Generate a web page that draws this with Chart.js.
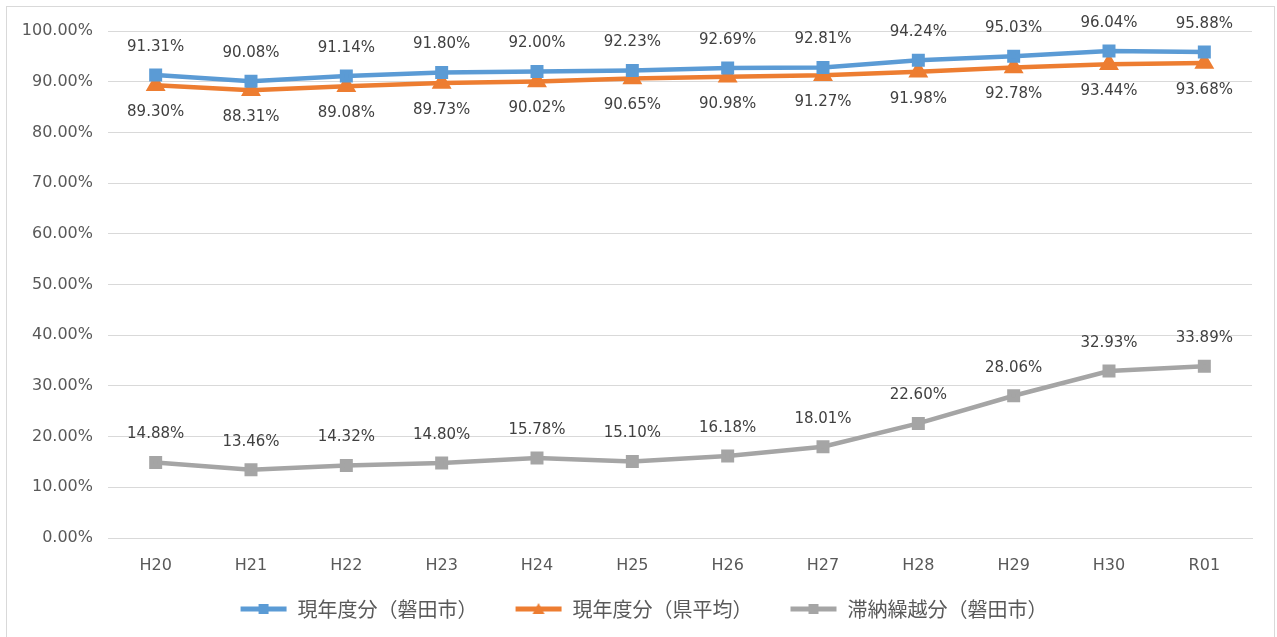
<!DOCTYPE html>
<html lang="ja">
<head>
<meta charset="utf-8">
<script src="https://cdn.jsdelivr.net/npm/chart.js@4"></script>
<style>
  html, body { margin: 0; padding: 0; background: #fff; }
  #wrap { width: 1277px; height: 637px; }
</style>
</head>
<body>
<div id="wrap"><canvas id="chart" width="1277" height="637"></canvas></div>
<script>
// data
const years = ["H20", "H21", "H22", "H23", "H24", "H25", "H26", "H27", "H28", "H29", "H30", "R01"];
const iwataCurrent = [91.31, 90.08, 91.14, 91.80, 92.00, 92.23, 92.69, 92.81, 94.24, 95.03, 96.04, 95.88];
const prefCurrent = [89.30, 88.31, 89.08, 89.73, 90.02, 90.65, 90.98, 91.27, 91.98, 92.78, 93.44, 93.68];
const iwataArrears = [14.88, 13.46, 14.32, 14.80, 15.78, 15.10, 16.18, 18.01, 22.60, 28.06, 32.93, 33.89];
const seriesNames = ["現年度分（磐田市）", "現年度分（県平均）", "滞納繰越分（磐田市）"];

const blue = "#5b9bd5";
const orange = "#ed7d31";
const gray = "#a5a5a5";
const jpFont = "'Noto Sans CJK JP', 'Noto Sans', sans-serif";
const numFont = "'DejaVu Sans', 'Liberation Sans', sans-serif";

// legend marker: line with point, blank space on the left works as item gap
const iconGap = 27;
const iconW = 48 + iconGap;
function legendIcon(color, shape) {
  const c = document.createElement("canvas");
  c.width = iconW;
  c.height = 16;
  const g = c.getContext("2d");
  const x0 = iconGap;
  g.strokeStyle = color;
  g.lineWidth = 5;
  g.beginPath();
  g.moveTo(x0 + 1, 8);
  g.lineTo(x0 + 47, 8);
  g.stroke();
  g.fillStyle = color;
  if (shape === "triangle") {
    g.beginPath();
    g.moveTo(x0 + 24, 2);
    g.lineTo(x0 + 30, 13);
    g.lineTo(x0 + 18, 13);
    g.closePath();
    g.fill();
  } else {
    g.fillRect(x0 + 19, 3, 10, 10);
  }
  return c;
}
const icons = [legendIcon(blue, "rect"), legendIcon(orange, "triangle"), legendIcon(gray, "rect")];

// value labels (blue / gray above, orange below)
const valueLabels = {
  id: "valueLabels",
  afterDatasetsDraw(chart) {
    const ctx = chart.ctx;
    ctx.save();
    ctx.font = "15px " + numFont;
    ctx.fillStyle = "#404040";
    ctx.textAlign = "center";
    ctx.textBaseline = "middle";
    chart.data.datasets.forEach((ds, i) => {
      const meta = chart.getDatasetMeta(i);
      meta.data.forEach((pt, j) => {
        const off = i === 1 ? 27 : -28;
        ctx.fillText(ds.data[j].toFixed(2) + "%", pt.x, pt.y + off);
      });
    });
    ctx.restore();
  },
};

// outer frame
const frame = {
  id: "frame",
  beforeDraw(chart) {
    const ctx = chart.ctx;
    ctx.save();
    ctx.fillStyle = "#fff";
    ctx.fillRect(0, 0, chart.width, chart.height);
    ctx.strokeStyle = "#d9d9d9";
    ctx.lineWidth = 1;
    ctx.strokeRect(6.5, 6.5, 1268, 660);
    ctx.restore();
  },
};

new Chart(document.getElementById("chart"), {
  type: "line",
  data: {
    labels: years,
    datasets: [
      {
        label: seriesNames[0],
        data: iwataCurrent,
        borderColor: blue,
        backgroundColor: blue,
        pointStyle: "rect",
        pointRadius: 6,
        borderWidth: 4.5,
      },
      {
        label: seriesNames[1],
        data: prefCurrent,
        borderColor: orange,
        backgroundColor: orange,
        pointStyle: "triangle",
        pointRadius: 7,
        borderWidth: 4.5,
      },
      {
        label: seriesNames[2],
        data: iwataArrears,
        borderColor: gray,
        backgroundColor: gray,
        pointStyle: "rect",
        pointRadius: 6,
        borderWidth: 4.5,
      },
    ],
  },
  options: {
    responsive: false,
    animation: false,
    layout: { padding: { top: 31, left: 8, right: 25, bottom: 8 } },
    plugins: {
      tooltip: { enabled: false },
      legend: {
        position: "bottom",
        labels: {
          usePointStyle: true,
          pointStyleWidth: iconW,
          padding: 10,
          color: "#595959",
          font: { family: jpFont, size: 20 },
          generateLabels(chart) {
            return chart.data.datasets.map((ds, i) => ({
              text: ds.label,
              pointStyle: icons[i],
              fillStyle: ds.borderColor,
              strokeStyle: ds.borderColor,
              lineWidth: 0,
              fontColor: "#595959",
              datasetIndex: i,
              hidden: false,
            }));
          },
        },
      },
    },
    scales: {
      x: {
        offset: true,
        grid: { display: false, drawTicks: false },
        border: { color: "#d9d9d9" },
        ticks: { color: "#595959", font: { family: numFont, size: 16 }, padding: 18 },
        afterFit(scale) { scale.height = 51; },
      },
      y: {
        min: 0,
        max: 100,
        grid: { color: "#d9d9d9", drawTicks: false },
        border: { display: false },
        ticks: {
          stepSize: 10,
          color: "#595959",
          font: { family: numFont, size: 16 },
          padding: 15,
          callback: (v) => v.toFixed(2) + "%",
        },
        afterFit(scale) { scale.width = 100; },
      },
    },
  },
  plugins: [frame, valueLabels],
});
</script>
</body>
</html>
